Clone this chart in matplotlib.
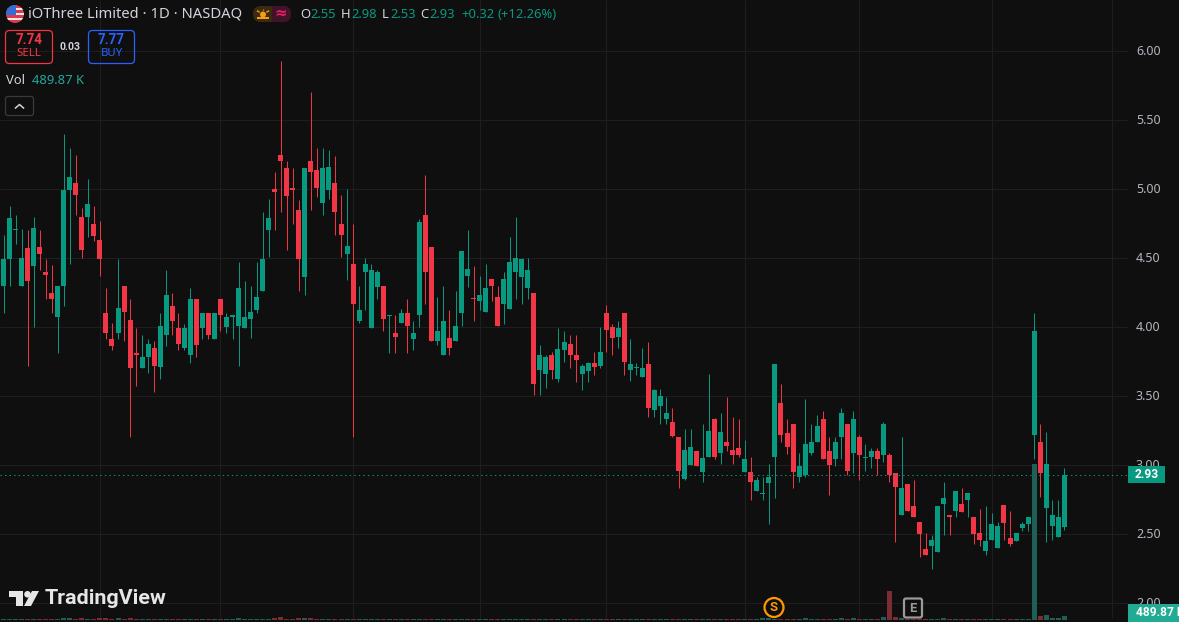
import matplotlib
matplotlib.use("Agg")
import matplotlib.pyplot as plt
from matplotlib.patches import Circle, FancyBboxPatch, Polygon, Rectangle
import numpy as np

# daily candles
opens = [
    4.30, 4.49, 4.70, 4.30, 4.57, 4.44, 4.58, 4.40, 4.25, 4.07,
    4.30, 4.99, 5.04, 4.80, 4.80, 4.75, 4.63, 4.10, 3.91, 3.96,
    4.30, 4.05, 3.81, 3.70, 3.78, 3.85, 3.71, 3.94, 4.15, 3.99,
    3.85, 3.80, 4.20, 3.99, 4.10, 3.91, 4.20, 4.00, 4.07, 4.01,
    3.99, 4.06, 4.12, 4.26, 4.70, 5.00, 5.25, 5.15, 5.01, 4.85,
    4.36, 5.20, 5.14, 4.90, 4.99, 5.04, 4.75, 4.53, 4.46, 4.04,
    4.40, 3.99, 4.29, 4.30, 4.08, 3.96, 4.03, 4.10, 3.91, 4.09,
    4.81, 4.58, 3.90, 3.80, 3.92, 3.90, 4.10, 4.37, 4.21, 4.19,
    4.11, 4.35, 4.22, 4.17, 4.13, 4.40, 4.36, 4.28, 4.25, 3.69,
    3.66, 3.80, 3.62, 3.83, 3.88, 3.80, 3.66, 3.68, 3.74, 3.72,
    4.10, 4.00, 3.93, 4.10, 3.69, 3.70, 3.64, 3.73, 3.40, 3.43,
    3.33, 3.31, 3.20, 2.90, 3.00, 3.10, 2.95, 3.06, 3.33, 3.09,
    3.17, 3.11, 3.12, 2.95, 2.95, 2.81, 2.79, 2.87, 3.06, 3.45,
    3.23, 3.30, 2.91, 2.93, 3.09, 3.17, 3.33, 3.10, 3.04, 3.20,
    3.30, 3.09, 3.20, 3.05, 3.06, 3.10, 3.07, 3.07, 2.94, 2.64,
    2.86, 2.70, 2.59, 2.39, 2.41, 2.37, 2.72, 2.64, 2.67, 2.72,
    2.75, 2.62, 2.51, 2.38, 2.46, 2.40, 2.71, 2.47, 2.45, 2.54,
    2.57, 3.22, 3.17, 2.69, 2.56, 2.48, 2.55,
]
highs = [
    4.67, 4.88, 4.81, 4.71, 4.70, 4.80, 4.70, 4.49, 4.45, 4.30,
    5.40, 5.30, 5.25, 4.86, 5.07, 4.88, 4.77, 4.28, 4.03, 4.49,
    4.30, 4.20, 3.99, 3.94, 3.91, 3.90, 4.10, 4.41, 4.25, 4.10,
    4.02, 4.28, 4.20, 4.10, 4.10, 4.10, 4.20, 4.10, 4.09, 4.47,
    4.33, 4.30, 4.47, 4.83, 4.93, 5.12, 5.93, 5.20, 5.15, 4.92,
    5.15, 5.70, 5.30, 5.30, 5.28, 5.24, 4.96, 5.00, 4.75, 4.30,
    4.50, 4.46, 4.41, 4.30, 4.09, 4.09, 4.13, 4.20, 4.04, 4.78,
    5.10, 4.58, 4.22, 4.30, 4.12, 4.26, 4.55, 4.70, 4.44, 4.37,
    4.46, 4.35, 4.30, 4.40, 4.65, 4.80, 4.50, 4.50, 4.25, 3.87,
    3.80, 3.82, 3.99, 3.97, 3.94, 3.94, 3.73, 3.75, 3.82, 4.00,
    4.16, 4.02, 4.04, 4.10, 3.91, 3.74, 3.85, 3.89, 3.55, 3.55,
    3.49, 3.41, 3.20, 3.26, 3.26, 3.10, 3.30, 3.66, 3.34, 3.38,
    3.49, 3.35, 3.33, 3.18, 3.06, 2.91, 2.91, 3.01, 3.73, 3.59,
    3.33, 3.30, 3.09, 3.48, 3.30, 3.36, 3.39, 3.20, 3.20, 3.41,
    3.30, 3.39, 3.22, 3.15, 3.12, 3.12, 3.31, 3.09, 2.94, 3.20,
    2.86, 2.89, 2.59, 2.51, 2.49, 2.70, 2.88, 2.64, 2.81, 2.83,
    2.80, 2.62, 2.68, 2.70, 2.65, 2.59, 2.71, 2.67, 2.51, 2.59,
    2.62, 4.10, 3.30, 3.24, 2.75, 2.75, 2.98,
]
lows = [
    4.10, 4.30, 4.60, 4.30, 3.72, 4.00, 4.41, 4.20, 4.10, 3.81,
    4.15, 4.46, 4.81, 4.50, 4.65, 4.62, 4.37, 3.91, 3.83, 3.91,
    3.90, 3.20, 3.57, 3.70, 3.67, 3.53, 3.62, 3.86, 3.94, 3.83,
    3.83, 3.74, 3.78, 3.91, 3.91, 3.91, 3.97, 3.96, 3.91, 3.72,
    3.99, 3.92, 4.10, 4.26, 4.51, 4.70, 4.83, 4.56, 4.75, 4.26,
    4.23, 4.85, 4.94, 4.81, 4.93, 4.67, 4.51, 4.34, 3.20, 4.03,
    4.12, 3.99, 4.20, 3.97, 3.81, 3.81, 4.03, 3.81, 3.83, 4.00,
    4.17, 3.90, 3.87, 3.80, 3.80, 3.90, 4.01, 4.29, 4.04, 4.12,
    4.11, 4.19, 4.01, 4.02, 4.13, 4.20, 4.17, 4.20, 3.51, 3.51,
    3.56, 3.62, 3.60, 3.75, 3.70, 3.60, 3.54, 3.60, 3.65, 3.70,
    3.82, 3.80, 3.85, 3.65, 3.61, 3.65, 3.64, 3.35, 3.35, 3.30,
    3.30, 3.20, 2.83, 2.89, 3.00, 2.99, 2.88, 3.06, 3.04, 3.01,
    3.10, 3.01, 3.06, 2.95, 2.75, 2.81, 2.75, 2.57, 2.76, 3.17,
    3.08, 2.83, 2.88, 2.91, 3.07, 3.17, 3.04, 2.78, 2.99, 3.04,
    2.93, 2.94, 2.89, 2.96, 2.98, 2.93, 3.02, 2.88, 2.44, 2.64,
    2.67, 2.62, 2.33, 2.35, 2.25, 2.37, 2.49, 2.49, 2.62, 2.66,
    2.62, 2.43, 2.41, 2.35, 2.46, 2.40, 2.46, 2.41, 2.45, 2.52,
    2.52, 3.04, 2.77, 2.44, 2.46, 2.48, 2.53,
]
closes = [
    4.49, 4.79, 4.70, 4.50, 4.33, 4.72, 4.53, 4.38, 4.20, 4.30,
    4.99, 5.09, 4.96, 4.56, 4.89, 4.66, 4.49, 3.96, 3.86, 4.14,
    4.11, 3.70, 3.80, 3.78, 3.88, 3.72, 4.01, 4.23, 4.04, 3.88,
    3.99, 4.20, 3.87, 4.10, 3.94, 4.10, 4.09, 4.07, 4.09, 4.28,
    4.07, 4.11, 4.22, 4.49, 4.79, 4.98, 5.20, 4.95, 4.99, 4.49,
    5.15, 5.12, 5.01, 5.15, 5.16, 4.83, 4.67, 4.59, 4.17, 4.12,
    4.46, 4.41, 4.40, 4.06, 4.09, 3.93, 4.10, 4.01, 3.96, 4.76,
    4.40, 3.90, 3.97, 4.04, 3.85, 4.01, 4.55, 4.42, 4.20, 4.23,
    4.28, 4.30, 4.01, 4.35, 4.47, 4.50, 4.49, 4.41, 3.59, 3.80,
    3.78, 3.69, 3.84, 3.89, 3.80, 3.76, 3.72, 3.74, 3.71, 3.82,
    3.98, 3.92, 3.99, 3.75, 3.73, 3.70, 3.70, 3.41, 3.54, 3.50,
    3.38, 3.21, 2.96, 3.11, 3.13, 2.99, 3.05, 3.25, 3.06, 3.24,
    3.14, 3.07, 3.07, 3.04, 2.88, 2.89, 2.80, 2.91, 3.73, 3.22,
    3.13, 2.95, 2.99, 3.15, 3.17, 3.28, 3.04, 3.00, 3.17, 3.38,
    2.96, 3.33, 3.07, 3.05, 3.10, 3.04, 3.30, 2.93, 2.84, 2.83,
    2.67, 2.62, 2.50, 2.35, 2.46, 2.70, 2.76, 2.62, 2.81, 2.66,
    2.80, 2.50, 2.46, 2.45, 2.57, 2.56, 2.58, 2.43, 2.51, 2.57,
    2.62, 3.97, 2.94, 3.01, 2.64, 2.62, 2.93,
]
# volume in thousands
volumes = [
    120, 120, 120, 120, 120, 120, 120, 120, 120, 120,
    245, 245, 120, 245, 120, 120, 245, 245, 120, 245,
    120, 245, 120, 120, 120, 120, 120, 120, 120, 120,
    120, 120, 120, 120, 120, 120, 120, 120, 120, 245,
    120, 120, 120, 120, 120, 245, 370, 120, 120, 245,
    245, 245, 120, 120, 120, 120, 120, 120, 120, 120,
    120, 120, 120, 120, 120, 120, 120, 120, 120, 120,
    120, 120, 120, 120, 120, 120, 120, 120, 120, 120,
    120, 120, 120, 120, 120, 120, 120, 120, 120, 120,
    120, 120, 120, 120, 120, 120, 120, 120, 120, 120,
    120, 120, 120, 120, 120, 120, 120, 120, 120, 120,
    120, 120, 120, 120, 120, 120, 120, 120, 120, 120,
    120, 120, 120, 120, 120, 120, 245, 245, 120, 120,
    120, 120, 120, 245, 120, 120, 120, 120, 120, 245,
    120, 245, 120, 120, 120, 120, 370, 3550, 370, 245,
    120, 120, 120, 120, 120, 120, 245, 120, 120, 120,
    120, 120, 120, 120, 120, 120, 120, 120, 120, 120,
    120, 19000, 490, 610, 245, 245, 490,
]
price_ticks = [6.00, 5.50, 5.00, 4.50, 4.00, 3.50, 3.00, 2.50, 2.00]
time_grid = [16, 36, 58, 79, 100, 123, 142, 164, 184]
last_close = 2.93
last_volume = "489.87 K"

BG = "#0f0f0f"
GRID = "#1f1f1f"
UP = "#089981"
DOWN = "#f23645"
TEXT = "#d1d4dc"
AXIS_TXT = "#b2b5be"
BOLD = ["Roboto", "DejaVu Sans"]
HAIR = 0.71      # just under 1 px, so the snapper centres it on one pixel

plt.rcParams["font.family"] = ["Noto Sans", "DejaVu Sans"]

W, H = 1179, 622
STEP = 6.027     # px per candle
X0 = 3.5         # px of first candle

fig = plt.figure(figsize=(W / 100, H / 100), dpi=100, facecolor=BG)

# ------------------------------------------------------------------
# price pane
# ------------------------------------------------------------------
ax = fig.add_axes([0, 0, 1, 1], facecolor=BG)
ax.set_xlim(-X0 / STEP, (W - X0) / STEP)
ax.set_ylim(6 - (H - 51) / 138, 6 + 51 / 138)
ax.axis("off")

# ------------------------------------------------------------------
# volume pane, same width, own scale
# ------------------------------------------------------------------
vax = fig.add_axes([0, 0, 1, 1], facecolor="none")
vax.set_xlim(ax.get_xlim())
vax.set_ylim(-245, 75700)
vax.axis("off")

o = np.array(opens)
h = np.array(highs)
l = np.array(lows)
c = np.array(closes)
v = np.array(volumes)
idx = np.arange(len(o))
up = c >= o
cols = [UP if u else DOWN for u in up]
vcols = ["#1f5f58" if u else "#7c2c33" for u in up]

x_left = ax.get_xlim()[0]
x_right = (1127 - X0) / STEP
ax.hlines(price_ticks, x_left, x_right, color=GRID, lw=HAIR, snap=True, zorder=1)
ax.vlines(time_grid, 1.89, 6.37, color=GRID, lw=HAIR, snap=True, zorder=1)

ax.hlines(last_close, x_left, x_right, color=UP, lw=HAIR,
          linestyles=(0, (1.4, 3.2)), snap=True, zorder=4)

ax.vlines(idx, l, h, color=cols, lw=HAIR, snap=True, zorder=3)
ax.bar(idx, np.maximum(np.abs(c - o), 0.008), bottom=np.minimum(o, c),
       width=0.83, color=cols, lw=0, antialiased=False, zorder=3)

vax.bar(idx, v, width=0.83, color=vcols, lw=0, antialiased=False)

# ------------------------------------------------------------------
# everything around the chart, in pixel coordinates
# ------------------------------------------------------------------
ui = fig.add_axes([0, 0, 1, 1], facecolor="none")
ui.set_xlim(0, W)
ui.set_ylim(H, 0)
ui.axis("off")

def px(s):
    return s * 72 / 100

# price scale
for p in price_ticks:
    ui.text(1136, 51.5 + (6 - p) * 138, "%.2f" % p, color=AXIS_TXT, fontsize=px(12.5),
            va="center", ha="left", zorder=2)

ui.add_patch(Rectangle((1128, 466), 37, 17, fc=UP, ec="none", zorder=4))
ui.text(1146.5, 474.5, "%.2f" % last_close, color="white", fontsize=px(12),
        family=BOLD, weight="bold", ha="center", va="center", zorder=5)
ui.add_patch(Rectangle((1128, 604), 51, 18, fc="#22ab94", ec="none", zorder=4))
ui.text(1136, 613, last_volume, color="white", fontsize=px(12), family=BOLD, weight="bold",
        ha="left", va="center", zorder=5)

# flag
clip = Circle((15, 14), 9, transform=ui.transData)
for k in range(7):
    st = Rectangle((5, 5 + k * 18 / 7), 20, 18 / 7, fc="#e8e8ee" if k % 2 else "#e0394a", ec="none")
    ui.add_patch(st)
    st.set_clip_path(clip)
can = Rectangle((5, 5), 11, 10, fc="#2f6fd8", ec="none")
ui.add_patch(can)
can.set_clip_path(clip)

# header
ui.text(28, 14, "iOThree Limited · 1D · NASDAQ", color=TEXT, fontsize=px(14.8), va="center", ha="left")

# market state pill
ui.add_patch(FancyBboxPatch((253, 6), 38, 16, boxstyle="round,pad=0,rounding_size=8",
                            fc="#3a2a12", ec="none"))
right = FancyBboxPatch((253, 6), 38, 16, boxstyle="round,pad=0,rounding_size=8",
                       fc="#42122a", ec="none")
ui.add_patch(right)
right.set_clip_path(Rectangle((272, 0), 30, 30, transform=ui.transData))
ui.add_patch(Circle((263, 14.5), 3, fc="#f59d0e", ec="none"))
ui.add_patch(Rectangle((257, 17), 12, 1.6, fc="#f59d0e", ec="none"))
ui.vlines([263], 8.5, 10, color="#f59d0e", lw=1)
ui.plot([257.5, 259], [11, 12], color="#f59d0e", lw=1)
ui.plot([268.5, 267], [11, 12], color="#f59d0e", lw=1)
ui.text(281, 14.5, "≈", color="#e91e63", fontsize=px(15), ha="center", va="center", weight="bold")

# OHLC
for xx, s, col in [
    (300, "O", TEXT), (310, "2.55", UP), (341, "H", TEXT), (351, "2.98", UP),
    (382, "L", TEXT), (390, "2.53", UP), (420, "C", TEXT), (429, "2.93", UP),
    (461, "+0.32", UP), (497, "(+12.26%)", UP),
]:
    ui.text(xx, 14.5, s, color=col, fontsize=px(13), va="center", ha="left")

# sell / buy boxes
ui.add_patch(FancyBboxPatch((5.5, 30.5), 47, 33, boxstyle="round,pad=0,rounding_size=4",
                            fc="none", ec=DOWN, lw=0.9))
ui.text(29, 40, "7.74", color=DOWN, fontsize=px(13.5), family=BOLD, weight="bold", ha="center", va="center")
ui.text(29, 54, "SELL", color=DOWN, fontsize=px(11.5), ha="center", va="center")
ui.text(70, 47, "0.03", color=TEXT, fontsize=px(10.5), family=BOLD, weight="bold", ha="center", va="center")
ui.add_patch(FancyBboxPatch((88.5, 30.5), 46, 33, boxstyle="round,pad=0,rounding_size=4",
                            fc="none", ec="#2962ff", lw=0.9))
ui.text(111.5, 40, "7.77", color="#2962ff", fontsize=px(13.5), family=BOLD, weight="bold", ha="center", va="center")
ui.text(111.5, 54, "BUY", color="#2962ff", fontsize=px(11.5), ha="center", va="center")

# volume legend
ui.text(6, 81, "Vol", color=TEXT, fontsize=px(13), ha="left", va="center")
ui.text(32, 81, last_volume, color="#26a69a", fontsize=px(13), ha="left", va="center")
ui.add_patch(FancyBboxPatch((5.5, 96.5), 28, 19, boxstyle="round,pad=0,rounding_size=2.5",
                            fc="none", ec="#3a3a3a", lw=0.9))
ui.plot([15.5, 19.5, 23.5], [108, 104.5, 108], color=TEXT, lw=1.1)

# split and earnings marks
ui.add_patch(Circle((774, 607.5), 9.5, fc=BG, ec="#ff9800", lw=1.6))
ui.text(774, 607.5, "S", color="#ff9800", fontsize=px(13), family=BOLD, weight="bold", ha="center", va="center")
ui.add_patch(FancyBboxPatch((904, 598.5), 18, 19, boxstyle="round,pad=0,rounding_size=2",
                            fc=BG, ec="#9a9a9a", lw=1.6))
ui.text(913, 608, "E", color="#9a9a9a", fontsize=px(13), family=BOLD, weight="bold", ha="center", va="center")

# logo
LOGO = "#e6e6e6"
ui.add_patch(Polygon([(9, 591), (23, 591), (23, 606), (16, 606), (16, 597), (9, 597)], fc=LOGO, ec="none"))
ui.add_patch(Circle((27.5, 594.3), 3.3, fc=LOGO, ec="none"))
ui.add_patch(Polygon([(32, 591), (39, 591), (31, 606), (24, 606)], fc=LOGO, ec="none"))
ui.text(45, 599, "TradingView", color=LOGO, fontsize=px(21.5), family=BOLD, weight="bold", ha="left", va="center")

fig.savefig("out.png", dpi=100, facecolor=BG)
